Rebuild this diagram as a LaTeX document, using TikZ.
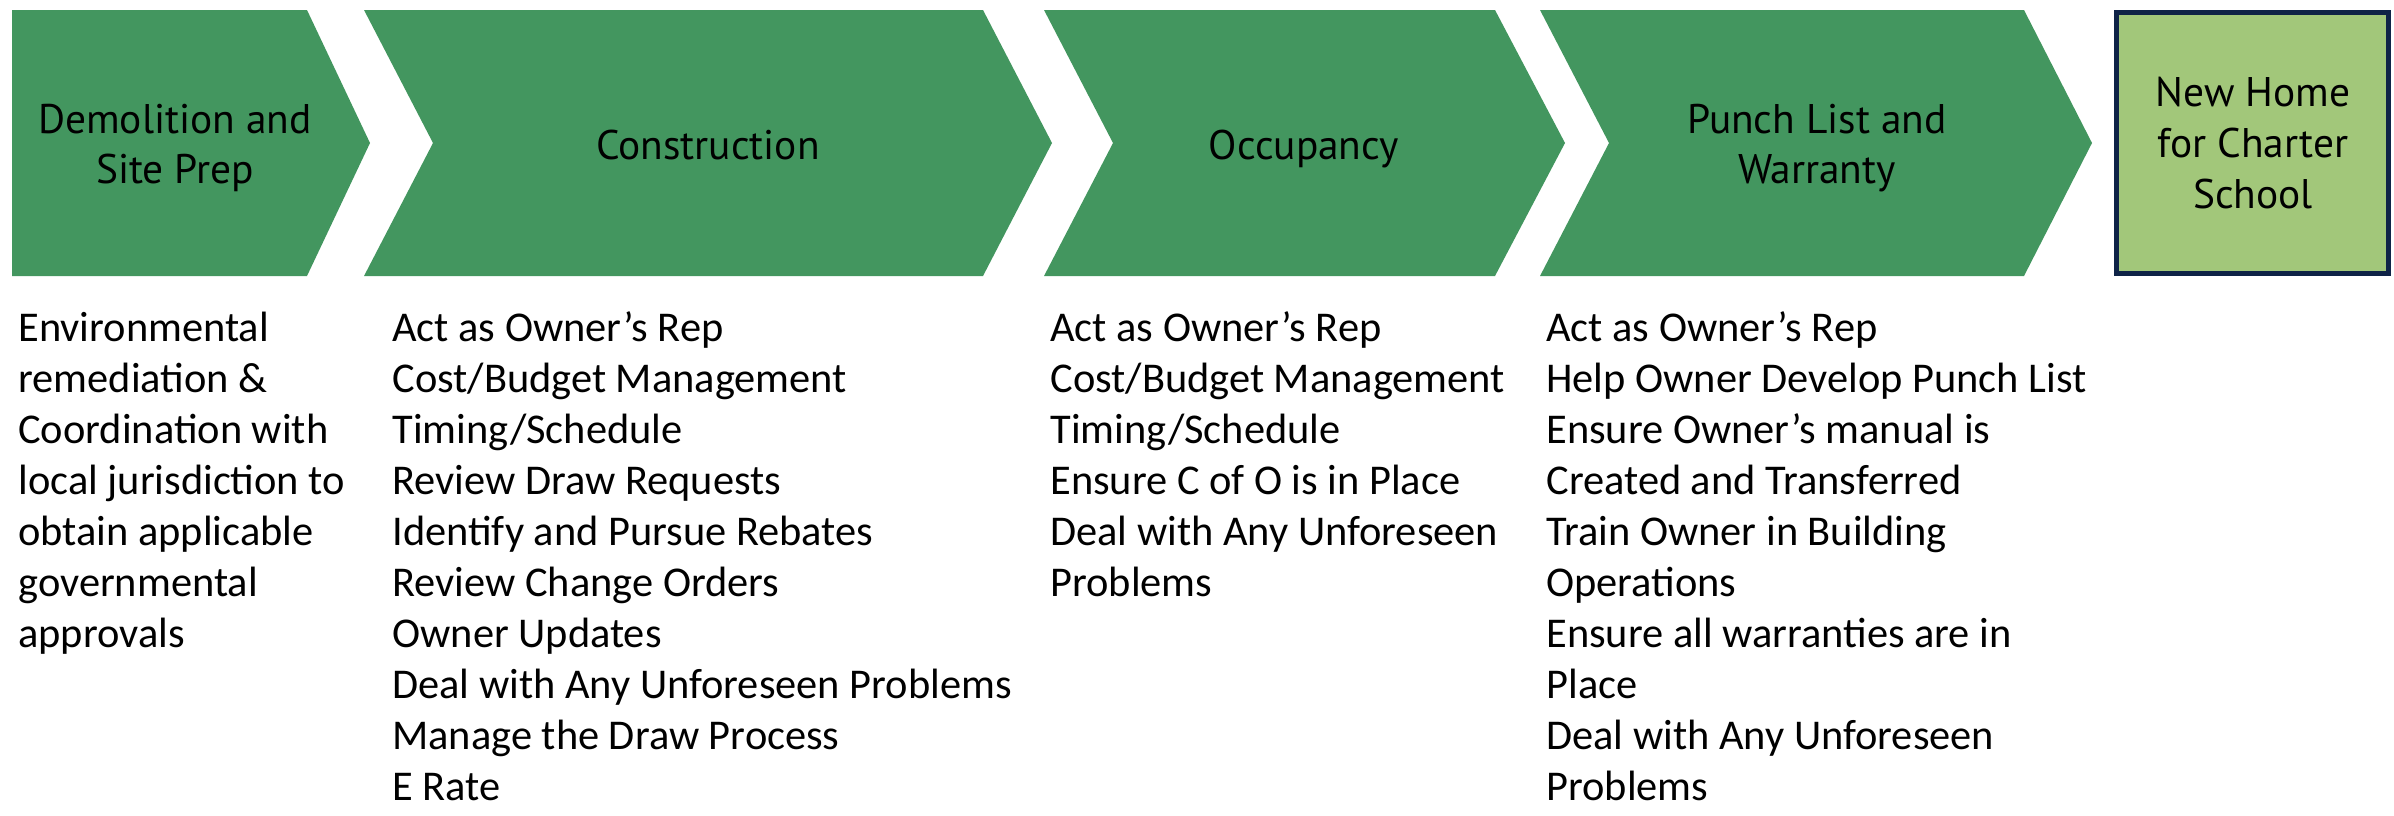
\documentclass[tikz,border=0pt]{standalone}
\usepackage{fontspec}
\setmainfont{Carlito}
\newfontfamily\headfont{PT Sans}
\definecolor{stepgreen}{HTML}{43965F}
\definecolor{goalgreen}{HTML}{A2C77A}
\definecolor{goalnavy}{HTML}{0F2347}
\newcommand{\headtext}{\headfont\fontsize{20.7}{25}\selectfont}
\newcommand{\bodytext}{\fontsize{21.2}{25.5}\selectfont}
\begin{document}
\begin{tikzpicture}[x=0.5pt,y=-0.5pt,
  stage/.style={fill=stepgreen,draw=none},
  headlabel/.style={anchor=base,inner sep=0pt,font=\headtext},
  bodylabel/.style={anchor=base west,inner sep=0pt,font=\bodytext}]
\useasboundingbox (0,0) rectangle (2394,815);

% stage chevrons
\fill[stage] (12,10) -- (307,10) -- (370,143) -- (307,276) -- (12,276) -- cycle;
\fill[stage] (364,10) -- (983,10) -- (1052,143) -- (983,276) -- (364,276) -- (433,143) -- cycle;
\fill[stage] (1044,10) -- (1495,10) -- (1565,143) -- (1495,276) -- (1044,276) -- (1113,143) -- cycle;
\fill[stage] (1540,10) -- (2024,10) -- (2092,143) -- (2024,276) -- (1540,276) -- (1609,143) -- cycle;

% goal box
\draw[fill=goalgreen,draw=goalnavy,line width=2.5pt] (2116.5,12.5) rectangle (2388.5,273.5);

% stage titles
\node[headlabel] (h1) at (175,133) {\begin{tabular}[t]{@{}c@{}}Demolition and\\Site Prep\end{tabular}};
\node[headlabel] (h2) at (708,159) {Construction};
\node[headlabel] (h3) at (1304,159) {Occupancy};
\node[headlabel] (h4) at (1817,133) {\begin{tabular}[t]{@{}c@{}}Punch List and\\Warranty\end{tabular}};
\node[headlabel,font=\headfont\fontsize{20.7}{25.5}\selectfont] (h5) at (2253,106) {\begin{tabular}[t]{@{}c@{}}New Home\\for Charter\\School\end{tabular}};

% task lists
\node[bodylabel] (t1) at (18,341) {\begin{tabular}[t]{@{}l@{}}
Environmental\\
remediation \&\\
Coordination with\\
local jurisdiction to\\
obtain applicable\\
governmental\\
approvals\end{tabular}};
\node[bodylabel] (t2) at (392,341) {\begin{tabular}[t]{@{}l@{}}
Act as Owner’s Rep\\
Cost/Budget Management\\
Timing/Schedule\\
Review Draw Requests\\
Identify and Pursue Rebates\\
Review Change Orders\\
Owner Updates\\
Deal with Any Unforeseen Problems\\
Manage the Draw Process\\
E Rate\end{tabular}};
\node[bodylabel] (t3) at (1050,341) {\begin{tabular}[t]{@{}l@{}}
Act as Owner’s Rep\\
Cost/Budget Management\\
Timing/Schedule\\
Ensure C of O is in Place\\
Deal with Any Unforeseen\\
Problems\end{tabular}};
\node[bodylabel] (t4) at (1546,341) {\begin{tabular}[t]{@{}l@{}}
Act as Owner’s Rep\\
Help Owner Develop Punch List\\
Ensure Owner’s manual is\\
Created and Transferred\\
Train Owner in Building\\
Operations\\
Ensure all warranties are in\\
Place\\
Deal with Any Unforeseen\\
Problems\end{tabular}};
\end{tikzpicture}
\end{document}
